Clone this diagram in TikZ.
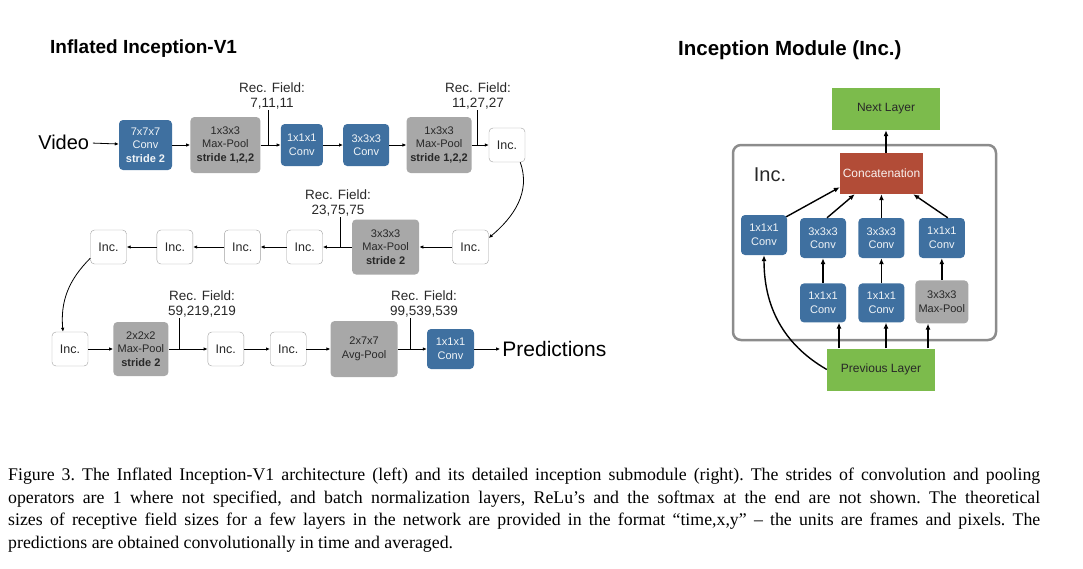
\documentclass[tikz,border=0pt]{standalone}
\usepackage{fontspec}
\setmainfont{Liberation Serif}
\setsansfont{Liberation Sans}
\usepackage{tikz}
\usetikzlibrary{positioning,arrows.meta}
\definecolor{colorconv}   {RGB}{63 ,112,160}
\definecolor{colorpool}   {RGB}{168,168,168}
\definecolor{colorlayer}  {RGB}{124,187,76 }
\definecolor{colorconcat} {RGB}{178,76 ,55 }
\definecolor{colorinc}    {RGB}{160,160,160}
\definecolor{colormod}    {RGB}{140,140,140}
\definecolor{colortext}   {RGB}{40 ,40 ,40 }
\newcommand{\fsz}[2]{\fontsize{#1}{#2}\selectfont}

\begin{document}
\begin{tikzpicture}[
    x=1pt, y=-1pt,
    font=\sffamily,
    base/.style={inner sep=0pt,align=center,rounded corners=4pt,font=\sffamily\fsz{11}{13.5}},
    conv/.style={base,fill=colorconv,text=white!92!colorconv},
    pool/.style={base,fill=colorpool,text=colortext},
    inc/.style={base,draw=colorinc,fill=white,text=colortext,minimum width=36pt,minimum height=34pt,font=\sffamily\fsz{12.5}{14}},
    field/.style={text=colortext,align=center,inner sep=1pt,font=\sffamily\fsz{13.5}{15}},
    flow/.style={-{Latex[length=4pt,width=3.5pt]},line width=0.8pt},
    pin/.style={line width=0.8pt},
    title/.style={anchor=base west,inner sep=0pt,font=\sffamily\bfseries},
    layer/.style={inner sep=0pt,fill=colorlayer,text=colortext,minimum width=108pt,minimum height=42pt,font=\sffamily\fsz{12}{14}},
    concat/.style={inner sep=0pt,fill=colorconcat,text=white!92!colorconcat,minimum width=83pt,minimum height=41pt,font=\sffamily\fsz{12}{14}},
    modconv/.style={conv,minimum width=46pt,minimum height=40pt},
    modbox/.style={draw=colormod,line width=2.5pt,rounded corners=8pt},
    link/.style={-{Latex[length=6pt,width=5pt]},line width=1.4pt},
]
    \useasboundingbox (0,0) rectangle (1083,568);

    % Titles
    \node[title,font=\sffamily\bfseries\fsz{19}{22}] (titlea) at (50,53) {Inflated Inception-V1};
    \node[title,font=\sffamily\bfseries\fsz{20.5}{23}] (titleb) at (678,55) {Inception Module (Inc.)};

    % Row one
    \node[conv,minimum width=53pt,minimum height=50pt] (conva) at (145.5,145) {7x7x7\\Conv\\\textbf{stride 2}};
    \node[left=26pt of conva,yshift=3pt,inner ysep=0pt,inner xsep=3.5pt,font=\sffamily\fsz{20}{22}] (video) {Video};
    \node[pool,right=18pt of conva,minimum width=70pt,minimum height=56pt] (poola) {1x3x3\\Max-Pool\\\textbf{stride 1,2,2}};
    \node[conv,right=20pt of poola,minimum width=42pt,minimum height=42pt] (convb) {1x1x1\\Conv};
    \node[conv,right=20pt of convb,minimum width=46pt,minimum height=42pt] (convc) {3x3x3\\Conv};
    \node[pool,right=17pt of convc,minimum width=65pt,minimum height=56pt] (poolb) {1x3x3\\Max-Pool\\\textbf{stride 1,2,2}};
    \node[inc,right=17pt of poolb] (inca) {Inc.};

    % Row two
    \node[inc] (incb) at (470.5,247) {Inc.};
    \node[pool,left=33pt of incb,minimum width=67pt,minimum height=55pt] (poolc) {3x3x3\\Max-Pool\\\textbf{stride 2}};
    \node[inc,left=29pt of poolc] (incc) {Inc.};
    \node[inc,left=26pt of incc]  (incd) {Inc.};
    \node[inc,left=31pt of incd]  (ince) {Inc.};
    \node[inc,left=30pt of ince]  (incf) {Inc.};

    % Row three
    \node[inc] (incg) at (70,349) {Inc.};
    \node[pool,right=25pt of incg,minimum width=55pt,minimum height=54pt] (poold) {2x2x2\\Max-Pool\\\textbf{stride 2}};
    \node[inc,right=39pt of poold] (inch) {Inc.};
    \node[inc,right=26pt of inch]  (inci) {Inc.};
    \node[pool,right=24pt of inci,minimum width=67pt,minimum height=56pt] (poole) {2x7x7\\Avg-Pool};
    \node[conv,right=29pt of poole,minimum width=47pt,minimum height=40pt] (convd) {1x1x1\\Conv};
    \node[right=26pt of convd,inner ysep=0pt,inner xsep=2pt,font=\sffamily\fsz{21}{23}] (pred) {Predictions};

    % Arrows
    \draw[flow] (video) -- (conva);
    \draw[flow] (conva) -- (poola);
    \draw[flow] (poola) -- (convb);
    \draw[flow] (convb) -- (convc);
    \draw[flow] (convc) -- (poolb);
    \draw[flow] (poolb) -- (inca);
    \draw[flow] ([xshift=-5pt]inca.south east) to [out=-70,in=40] ([yshift=9pt]incb.east);
    \draw[flow] (incb) -- (poolc);
    \draw[flow] (poolc) -- (incc);
    \draw[flow] (incc) -- (incd);
    \draw[flow] (incd) -- (ince);
    \draw[flow] (ince) -- (incf);
    \draw[flow] ([yshift=6pt]incf.south west) to [out=-135,in=95] ([xshift=-7pt]incg.north);
    \draw[flow] (incg) -- (poold);
    \draw[flow] (poold) -- (inch);
    \draw[flow] (inch) -- (inci);
    \draw[flow] (inci) -- (poole);
    \draw[flow] (poole) -- (convd);
    \draw[flow] (convd) -- (pred);

    % Receptive fields
    \coordinate (pina) at ([xshift=8pt]poola.east);
    \coordinate (pinb) at ([xshift=6pt]poolb.east);
    \coordinate (pinc) at ([xshift=-12pt]poolc.west);
    \coordinate (pind) at ([xshift=11pt]poold.east);
    \coordinate (pine) at ([xshift=13pt]poole.east);
    \node[field] (fielda) at (272,96)  {Rec. Field:\\7,11,11};
    \node[field] (fieldb) at (478,96)  {Rec. Field:\\11,27,27};
    \node[field] (fieldc) at (338,203) {Rec. Field:\\23,75,75};
    \node[field] (fieldd) at (202,304) {Rec. Field:\\59,219,219};
    \node[field] (fielde) at (424,304) {Rec. Field:\\99,539,539};
    \draw[pin] (fielda.south -| pina) -- (pina);
    \draw[pin] (fieldb.south -| pinb) -- (pinb);
    \draw[pin] (fieldc.south -| pinc) -- (pinc);
    \draw[pin] (fieldd.south -| pind) -- (pind);
    \draw[pin] (fielde.south -| pine) -- (pine);

    % Inception module
    \node[modbox,minimum width=263pt,minimum height=195pt] (module) at (864.5,242.5) {};
    \node[inner sep=0pt,text=colortext,font=\sffamily\fsz{20}{22}] (inclabel) at (770,175) {Inc.};
    \node[layer]  (next)   at (886,109)     {Next Layer};
    \node[concat] (concat) at (881.5,173.5) {Concatenation};
    \node[modconv] (brancha) at (764,235) {1x1x1\\Conv};
    \node[modconv] (branchb) at (823,238) {3x3x3\\Conv};
    \node[modconv,right=12pt of branchb] (branchc) {3x3x3\\Conv};
    \node[modconv,right=14pt of branchc] (branchd) {1x1x1\\Conv};
    \node[modconv,below=25pt of branchb,minimum height=39pt] (reduceb) {1x1x1\\Conv};
    \node[modconv,below=25pt of branchc,minimum height=39pt] (reducec) {1x1x1\\Conv};
    \node[pool,below=22pt of branchd,minimum width=53pt,minimum height=43pt] (reduced) {3x3x3\\Max-Pool};
    \node[layer] (prev) at (881,369.5) {Previous Layer};

    % Module arrows
    \draw[link] (concat.north -| next.south) -- (next.south);
    \draw[link] ([xshift=-1pt,yshift=-2pt]brancha.north east) -- ([yshift=7pt]concat.south west);
    \draw[link] ([xshift=4pt]branchb.north) -- ([xshift=15pt]concat.south west);
    \draw[link] (branchc.north) -- (branchc.north |- concat.south);
    \draw[link] ([xshift=6pt]branchd.north) -- ([xshift=-10pt]concat.south east);
    \draw[link] (reduceb) -- (branchb);
    \draw[link] (reducec) -- (branchc);
    \draw[link] (reduced) -- (branchd);
    \draw[link] ([xshift=-42pt]prev.north) -- ([xshift=-42pt]prev.north |- reduceb.south);
    \draw[link] ([xshift=5pt]prev.north)   -- ([xshift=5pt]prev.north |- reducec.south);
    \draw[link] ([xshift=47pt]prev.north)  -- ([xshift=47pt]prev.north |- reduced.south);
    \draw[link] (prev.west) to [out=150,in=-90] (brancha.south);

    % Caption
    \node[anchor=north west,inner sep=0pt,align=left,font=\rmfamily\frenchspacing\fsz{17.8}{22.6}] (caption) at (8,468) {%
      \makebox[1032pt][s]{Figure 3. The Inflated Inception-V1 architecture (left) and its detailed inception submodule (right). The strides of convolution and pooling}\\
      \makebox[1032pt][s]{operators are 1 where not specified, and batch normalization layers, ReLu's and the softmax at the end are not shown. The theoretical}\\
      \makebox[1032pt][s]{sizes of receptive field sizes for a few layers in the network are provided in the format ``time,x,y'' -- the units are frames and pixels. The}\\
      predictions are obtained convolutionally in time and averaged.};

\end{tikzpicture}
\end{document}
